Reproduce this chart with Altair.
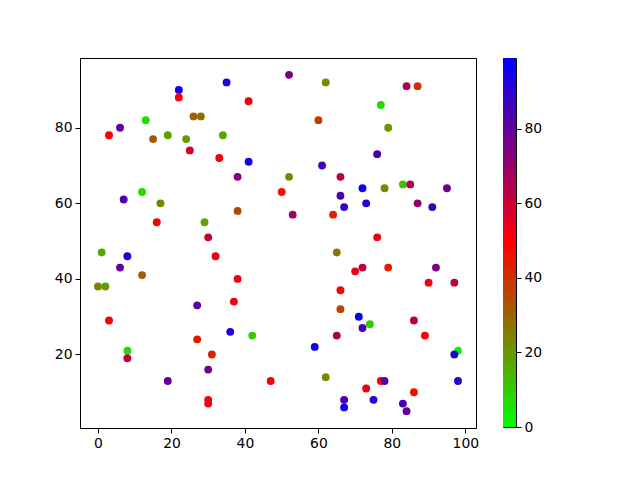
import altair as alt
import pandas as pd

xs = [22, 35, 52, 62, 22, 41, 84, 87, 77, 13, 6, 3, 15, 19, 24, 26, 28, 25, 34, 33,
      41, 60, 79, 76, 61, 38, 52, 66, 12, 7, 17, 72, 78, 83, 85, 95, 66, 67, 73, 87,
      91, 50, 38, 53, 64, 16, 29, 30, 76, 1, 8, 32, 65, 6, 70, 72, 79, 92, 12, 0,
      2, 38, 90, 97, 66, 37, 27, 66, 71, 74, 72, 3, 65, 86, 89, 36, 42, 27, 59, 98,
      97, 8, 8, 31, 62, 19, 47, 77, 78, 98, 73, 86, 30, 30, 30, 67, 75, 67, 83, 84]
ys = [90, 92, 94, 92, 88, 87, 91, 91, 86, 82, 80, 78, 77, 78, 77, 83, 83, 74, 78, 72,
      71, 82, 80, 73, 70, 67, 67, 67, 63, 61, 60, 64, 64, 65, 65, 64, 62, 59, 60, 60,
      59, 63, 58, 57, 57, 55, 55, 51, 51, 47, 46, 46, 47, 43, 42, 43, 43, 43, 41, 38,
      38, 40, 39, 39, 37, 34, 33, 32, 30, 28, 27, 29, 25, 29, 25, 26, 25, 24, 22, 21,
      20, 21, 19, 20, 14, 13, 13, 13, 13, 13, 11, 10, 16, 8, 7, 8, 8, 6, 7, 5]
cs = [95, 93, 75, 22, 50, 52, 65, 40, 8, 6, 80, 50, 32, 18, 20, 30, 28, 58, 17, 52,
      94, 38, 20, 85, 85, 72, 22, 62, 7, 84, 24, 95, 22, 12, 65, 78, 83, 90, 90, 70,
      88, 45, 36, 68, 42, 52, 18, 60, 52, 18, 92, 54, 27, 80, 53, 62, 44, 75, 32, 24,
      19, 53, 52, 63, 50, 52, 80, 37, 96, 10, 85, 51, 66, 64, 51, 94, 10, 45, 95, 2,
      92, 7, 62, 42, 22, 80, 51, 50, 82, 90, 52, 46, 78, 52, 53, 85, 92, 95, 85, 80]

cbar_ticks = [0, 20, 40, 60, 80]
cbar_max = 99

df = pd.DataFrame({"x": xs, "y": ys, "c": cs})
cbar = pd.DataFrame({"v": [i * 0.5 for i in range(int(cbar_max * 2))]})
cbar["v2"] = (cbar["v"] + 1.0).clip(upper=cbar_max)
cbar["vm"] = cbar["v"] + 0.25

font = "DejaVu Sans"
cscale = alt.Scale(domain=[0, cbar_max / 2, cbar_max], interpolate="rgb",
                   range=["#00ff00", "#ff0000", "#0000ff"])

main = alt.Chart(df).mark_circle(size=62, opacity=1).encode(
    x=alt.X("x:Q", title=None,
            scale=alt.Scale(domain=[-4.9, 102.9], nice=False, zero=False),
            axis=alt.Axis(values=[0, 20, 40, 60, 80, 100], grid=False)),
    y=alt.Y("y:Q", title=None,
            scale=alt.Scale(domain=[0.55, 98.45], nice=False, zero=False),
            axis=alt.Axis(values=[20, 40, 60, 80], grid=False,
                          minExtent=30, maxExtent=30)),
    color=alt.Color("c:Q", scale=cscale, legend=None),
).properties(width=396, height=370)

colorbar = alt.Chart(cbar).mark_rect(strokeWidth=0).encode(
    y=alt.Y("v:Q", title=None,
            scale=alt.Scale(domain=[0, cbar_max], nice=False, zero=False),
            axis=alt.Axis(orient="right", values=cbar_ticks, grid=False,
                          domain=False)),
    y2="v2:Q",
    color=alt.Color("vm:Q", scale=cscale, legend=None),
).properties(width=13, height=369)

chart = alt.hconcat(main, colorbar, spacing=22).properties(
    padding={"left": 41, "top": 49, "right": 5, "bottom": 5},
).resolve_scale(color="independent").configure_view(
    stroke="black", strokeWidth=1
).configure_axis(
    domainColor="black", tickColor="black", tickSize=5, labelPadding=3,
    labelFont=font, labelFontSize=13.9, labelColor="black", domainWidth=1
)

chart.save("out.html", embed_options={"renderer": "svg", "actions": False})
